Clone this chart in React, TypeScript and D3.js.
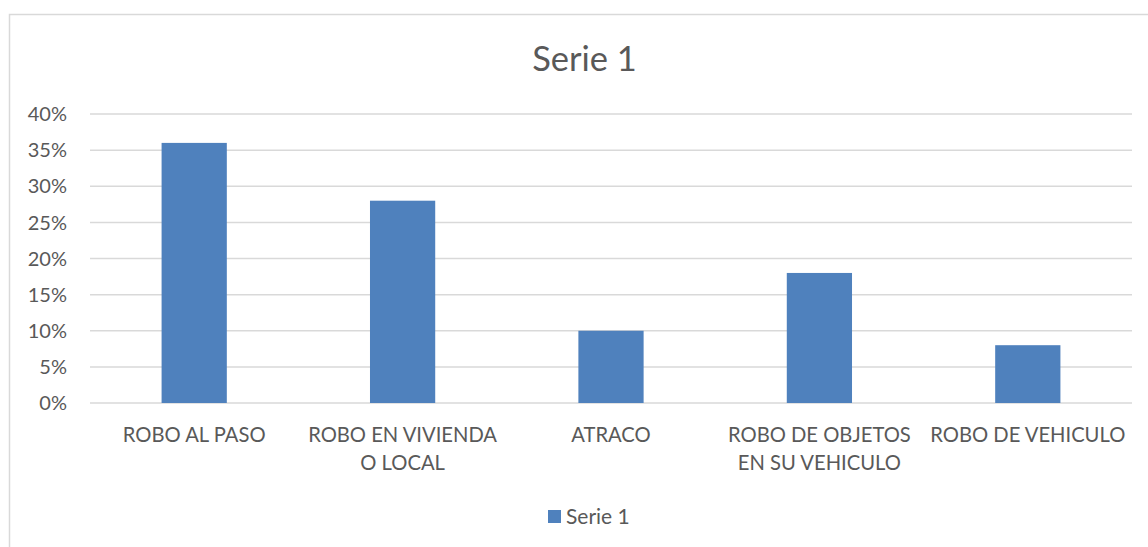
import React from "react";
import * as d3 from "d3";

const categories: string[][] = [
  ["ROBO AL PASO"],
  ["ROBO EN VIVIENDA", "O LOCAL"],
  ["ATRACO"],
  ["ROBO DE OBJETOS", "EN SU VEHICULO"],
  ["ROBO DE VEHICULO"],
];
const values: number[] = [0.36, 0.28, 0.1, 0.18, 0.08];
const yTicks: number[] = [0, 0.05, 0.1, 0.15, 0.2, 0.25, 0.3, 0.35, 0.4];
const seriesName = "Serie 1";

const W = 1148;
const H = 547;
const left = 90;
const right = 1132;
const top = 114;
const bottom = 403;
const textColor = "#595959";
const font = "Lato, 'Open Sans', sans-serif";

export default function App() {
  const x = d3
    .scaleBand<number>()
    .domain(categories.map((_, i) => i))
    .range([left, right])
    .paddingInner(0.687)
    .paddingOuter(0.3435);
  const xc = d3
    .scaleBand<number>()
    .domain(categories.map((_, i) => i))
    .range([left, right]);
  const y = d3.scaleLinear().domain([0, 0.4]).range([bottom, top]);
  const fmt = d3.format(".0%");

  return (
    <svg
      width={W}
      height={H}
      style={{ position: "absolute", left: 0, top: 0, display: "block" }}
      fontFamily={font}
    >
      <rect x={0} y={0} width={W} height={H} fill="#fff" />
      <rect
        x={9.5}
        y={14.5}
        width={W + 20}
        height={H + 20}
        fill="#fff"
        stroke="#d9d9d9"
        strokeWidth={1.5}
      />
      <text
        x={584.5}
        y={71}
        textAnchor="middle"
        fontSize={34.5}
        fill={textColor}
      >
        {seriesName}
      </text>
      {yTicks.map((t) => (
        <g key={t}>
          <line
            x1={left}
            x2={right}
            y1={y(t)}
            y2={y(t)}
            stroke="#d9d9d9"
            strokeWidth={1.5}
          />
          <text
            x={67}
            y={y(t)}
            dy="0.36em"
            textAnchor="end"
            fontSize={20}
            fill={textColor}
          >
            {fmt(t)}
          </text>
        </g>
      ))}
      {values.map((v, i) => (
        <rect
          key={i}
          x={x(i)}
          y={y(v)}
          width={x.bandwidth()}
          height={y(0) - y(v)}
          fill="#4f81bd"
        />
      ))}
      {categories.map((lines, i) => (
        <text
          key={i}
          x={(xc(i) as number) + xc.bandwidth() / 2}
          y={442}
          textAnchor="middle"
          fontSize={20.2}
          fill={textColor}
        >
          {lines.map((l, j) => (
            <tspan key={j} x={(xc(i) as number) + xc.bandwidth() / 2} dy={j === 0 ? 0 : 28}>
              {l}
            </tspan>
          ))}
        </text>
      ))}
      <rect x={548} y={510} width={13} height={13} fill="#4f81bd" />
      <text x={566} y={524} fontSize={21} fill={textColor}>
        {seriesName}
      </text>
    </svg>
  );
}
